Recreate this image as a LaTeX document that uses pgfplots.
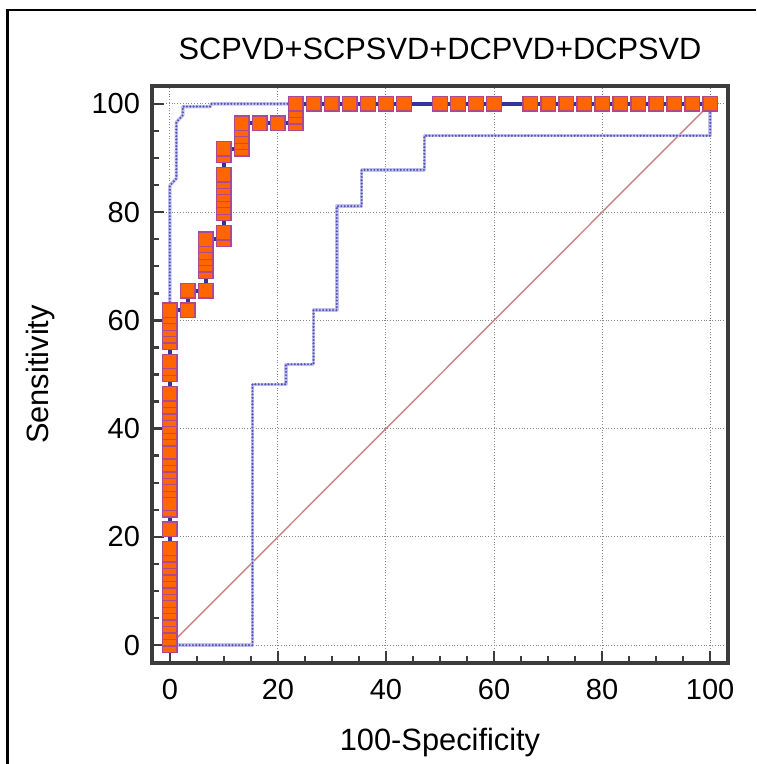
\documentclass[border=0pt]{standalone}
\usepackage{fontspec}
\setmainfont{Liberation Sans}
\usepackage{pgfplots}
\pgfplotsset{compat=1.18}
\definecolor{mkfill}{RGB}{255,102,0}
\definecolor{mkedge}{RGB}{176,72,140}
\definecolor{roc}{RGB}{51,51,153}
\definecolor{band}{RGB}{85,85,185}
\definecolor{bandhalo}{RGB}{196,196,238}
\definecolor{diag}{RGB}{205,130,130}
\definecolor{axc}{RGB}{60,60,60}
\definecolor{gridc}{RGB}{135,135,135}
\pgfplotstableread{
x y
0 0
15.3 0
15.3 48.2
21.5 48.2
21.5 51.9
26.6 51.9
26.6 61.9
30.9 61.9
30.9 81.1
35.5 81.1
35.5 87.8
47.1 87.8
47.1 94.1
100 94.1
100 100
}\lowerband
\pgfplotstableread{
x y
0 0
0 84.9
1.2 86.2
1.2 96.6
2.4 97.9
2.4 99.5
7.5 99.5
7.7 100
100 100
}\upperband
\begin{document}
\begin{tikzpicture}
\useasboundingbox (0,0) rectangle (378pt,382pt);
\draw[line width=1.25pt, black] (3.75pt,0) -- (3.75pt,377pt) -- (378pt,377pt);
\begin{axis}[
  at={(76pt,50.5pt)}, anchor=south west,
  scale only axis, width=288pt, height=288.5pt,
  xmin=-3.3, xmax=103.3, ymin=-3.3, ymax=103.3,
  xtick={0,20,...,100}, ytick={0,20,...,100},
  minor tick num=3,
  tick align=inside,
  xtick pos=left, ytick pos=left,
  major tick length=6pt, minor tick length=3.5pt,
  every tick/.style={axc, line width=1.2pt},
  axis line style={axc, line width=1.75pt},
  grid=major,
  major grid style={gridc, line width=0.5pt, dash pattern=on 0.5pt off 0.9pt},
  /pgf/number format/assume math mode=true,
  tick label style={font=\fontsize{14.5}{17}\selectfont, black},
  xticklabel style={yshift=-4.5pt},
  yticklabel style={xshift=-2.5pt},
  title={SCPVD+SCPSVD+DCPVD+DCPSVD},
  title style={font=\fontsize{15.4}{18}\selectfont, at={(axis description cs:0.5,1.0243)}, anchor=base},
  xlabel={100-Specificity},
  xlabel style={font=\fontsize{15.4}{18}\selectfont, at={(axis description cs:0.5,-0.151)}, anchor=base},
  ylabel={Sensitivity},
  ylabel style={font=\fontsize{15.4}{18}\selectfont, at={(axis description cs:-0.179,0.5)}, anchor=base},
]
% reference diagonal
\addplot[diag, line width=0.7pt] coordinates {(0,0) (100,100)};
% confidence bounds: light halo, then dots
\addplot[bandhalo, line width=1.7pt, line join=round] table {\lowerband};
\addplot[bandhalo, line width=1.7pt, line join=round] table {\upperband};
\addplot[band, line width=1.2pt, line cap=round, line join=round, dash pattern=on 0pt off 1.65pt] table {\lowerband};
\addplot[band, line width=1.2pt, line cap=round, line join=round, dash pattern=on 0pt off 1.65pt] table {\upperband};
% ROC step curve
\addplot[roc, line width=2pt] coordinates {(0,0) (0,61.90) (3.33,61.90) (3.33,65.48) (6.67,65.48)
  (6.67,75.00) (10,75.00) (10,91.67) (13.33,91.67) (13.33,96.43) (23.33,96.43) (23.33,100) (100,100)};
% criterion points
\addplot[only marks, mark=square*, mark size=3.6pt, mark options={fill=mkfill, draw=mkedge, line width=0.65pt}]
  coordinates {
  (0,0) (0,1.19) (0,2.38) (0,3.57) (0,4.76) (0,5.95) (0,7.14) (0,8.33) (0,9.52) (0,10.71)
  (0,11.90) (0,13.10) (0,14.29) (0,15.48) (0,16.67) (0,17.86)
  (0,21.43)
  (0,25.00) (0,26.19) (0,28.57) (0,29.76) (0,30.95) (0,32.14) (0,33.33) (0,34.52)
  (0,35.71) (0,38.10) (0,39.29) (0,40.48) (0,41.67) (0,42.86) (0,44.05) (0,45.24) (0,46.43)
  (0,50.00) (0,51.19) (0,52.38)
  (0,55.95) (0,57.14) (0,58.33) (0,59.52) (0,60.71) (0,61.90)
  (3.33,61.90) (3.33,65.48)
  (6.67,65.48) (6.67,69.05) (6.67,70.24) (6.67,71.43) (6.67,72.62) (6.67,73.81) (6.67,75.00)
  (10,75.00) (10,76.19) (10,79.76) (10,80.95) (10,82.14) (10,83.33) (10,84.52) (10,85.71) (10,86.90)
  (10,90.48) (10,91.67)
  (13.33,91.67) (13.33,92.86) (13.33,94.05) (13.33,95.24) (13.33,96.43)
  (16.67,96.43) (20,96.43)
  (23.33,96.43) (23.33,97.62) (23.33,98.81) (23.33,100)
  (26.67,100) (30,100) (33.33,100) (36.67,100) (40,100) (43.33,100)
  (50,100) (53.33,100) (56.67,100) (60,100)
  (66.67,100) (70,100) (73.33,100) (76.67,100) (80,100) (83.33,100) (86.67,100) (90,100)
  (93.33,100) (96.67,100) (100,100)};
\end{axis}
\end{tikzpicture}
\end{document}
